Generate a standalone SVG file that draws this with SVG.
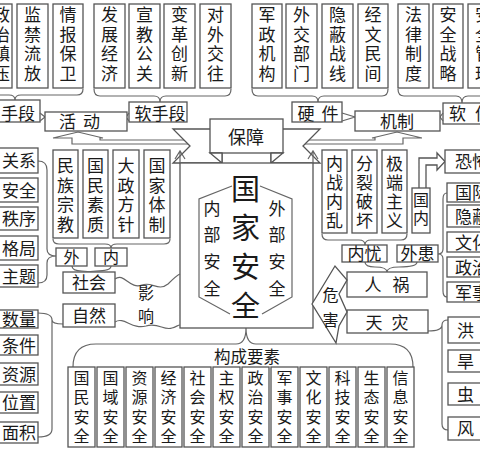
<svg xmlns="http://www.w3.org/2000/svg" width="480" height="450" viewBox="0 0 480 450">
<style>
.b{fill:#fff;stroke:#555;stroke-width:1.3}
.l{fill:none;stroke:#666;stroke-width:1.2}
.t{font-family:"Noto Sans CJK SC",sans-serif;font-size:17px;fill:#1a1a1a;text-anchor:middle}
.s{font-size:16px}
.e{text-anchor:end}
.st{text-anchor:start}
.v{writing-mode:vertical-rl;letter-spacing:2.5px}
.vb{writing-mode:vertical-rl;font-size:16px;letter-spacing:3.5px}
</style>
<rect width="480" height="450" fill="#fff"/>
<g id="connectors">
<path class="l" d="M-20,89 Q-20,95 -14,95 L9,95 Q15,95 15,100 Q15,95 21,95 L77,95 Q83,95 83,89"/>
<path class="l" d="M94,89 Q94,96 100,96 L154,96 Q160,96 160,102 Q160,96 166,96 L225,96 Q231,96 231,89"/>
<path class="l" d="M252,89 Q252,96 258,96 L312,96 Q318,96 318,102 Q318,96 324,96 L382,96 Q388,96 388,89"/>
<path class="l" d="M398,89 Q398,96 404,96 L456,96 Q462,96 462,103 Q462,96 468,96 L494,96 Q500,96 500,89"/>
<path class="l" d="M53,138 L78,132 L103,138 L100,138 L100,140 L200,140 M53,138 L72,138 L72,144 L200,144"/>
<path class="l" d="M422,138 L397,132 L372,138 L375,138 L375,140 L295,140 M422,138 L403,138 L403,144 L295,144"/>
<path class="l" d="M53,239 Q53,244 59,244 L105,244 Q111,244 111,248 Q111,244 117,244 L164,244 Q170,244 170,239"/>
<path class="l" d="M72,266 Q72,271 82,271 Q89,271 89,272 Q89,271 96,271 Q111,271 111,266"/>
<path class="l" d="M38,161 Q47,161 47,170 L47,249 Q47,256 56,256 M56,256 Q47,256 47,263 L47,275 Q47,283 38,283"/>
<path class="l" d="M38,313 Q52,313 52,320 Q52,324 63,324 M52,320 L52,429 Q52,437 38,437"/>
<path class="l" d="M322,234 Q322,240 328,240 L359,240 Q365,240 365,245 Q365,240 371,240 L401,240 Q407,240 407,234"/>
<path class="l" d="M365,262 Q365,267 375,267 Q387,267 387,272 Q387,267 399,267 Q417,267 417,262"/>
<path class="l" d="M447,193 Q443,193 443,199 L443,249 Q443,254 438,254 Q443,254 443,259 L443,291 Q443,297 447,297"/>
<path class="l" d="M428,331 Q442,331 442,325 Q442,320 448,320 M442,325 L442,424 Q442,430 448,430"/>
<path class="l" d="M73,367 Q73,344 96,344 L236,344 Q246,344 246,328 Q246,344 256,344 L390,344 Q413,344 413,367"/>
<path class="b" d="M419,188 L419,158 L437,158 L437,153 L445,161.5 L437,170 L437,165 L426,165 L426,188"/>
</g>
<g id="n-zhengzhi"><rect class="b" x="-20" y="4" width="32" height="84"/><text class="t v" x="1.5" y="45.5">政治镇压</text></g>
<g id="n-jianjin"><rect class="b" x="17" y="4" width="31" height="84"/><text class="t v" x="32.5" y="45.5">监禁流放</text></g>
<g id="n-qingbao"><rect class="b" x="53" y="4" width="30" height="84"/><text class="t v" x="68" y="45.5">情报保卫</text></g>
<g id="n-fazhan"><rect class="b" x="94" y="4" width="31" height="84"/><text class="t v" x="109.5" y="45.5">发展经济</text></g>
<g id="n-xuanjiao"><rect class="b" x="129" y="4" width="31" height="84"/><text class="t v" x="144.5" y="45.5">宣教公关</text></g>
<g id="n-biange"><rect class="b" x="164" y="4" width="31" height="84"/><text class="t v" x="179.5" y="45.5">变革创新</text></g>
<g id="n-duiwai"><rect class="b" x="200" y="4" width="31" height="84"/><text class="t v" x="215.5" y="45.5">对外交往</text></g>
<g id="n-junzheng"><rect class="b" x="252" y="4" width="30" height="84"/><text class="t v" x="267" y="45.5">军政机构</text></g>
<g id="n-waijiao"><rect class="b" x="286" y="4" width="31" height="84"/><text class="t v" x="301.5" y="45.5">外交部门</text></g>
<g id="n-yinbi"><rect class="b" x="322" y="4" width="31" height="84"/><text class="t v" x="337.5" y="45.5">隐蔽战线</text></g>
<g id="n-jingwen"><rect class="b" x="358" y="4" width="30" height="84"/><text class="t v" x="373" y="45.5">经文民间</text></g>
<g id="n-falv"><rect class="b" x="398" y="4" width="31" height="84"/><text class="t v" x="413.5" y="45.5">法律制度</text></g>
<g id="n-zhanlue"><rect class="b" x="433" y="4" width="30" height="84"/><text class="t v" x="448" y="45.5">安全战略</text></g>
<g id="n-guanli"><rect class="b" x="468" y="4" width="31" height="84"/><text class="t v" x="483.5" y="45.5">安全管理</text></g>
<g id="n-huodong">
<rect class="b" x="-20" y="100" width="60" height="22"/><text class="t st" x="1" y="119.5">手段</text>
<rect class="b" x="129" y="102" width="58" height="20"/><text class="t" x="160" y="119.5">软手段</text>
<path class="l" d="M40,113 L45,117 L40,121 M129,113 L126,117 L129,121"/>
<rect class="b" x="45" y="112" width="82" height="19"/><text class="t" x="83" y="128" style="letter-spacing:7px">活动</text>
</g>
<g id="n-jizhi">
<rect class="b" x="292" y="102" width="50" height="20"/><text class="t" x="321.5" y="119.5" style="letter-spacing:7px">硬件</text>
<rect class="b" x="443" y="103" width="60" height="21"/><text class="t st" x="449" y="119.5" style="letter-spacing:9px">软件</text>
<path class="l" d="M342,113 L355,117 L342,121 M443,113 L440,117 L443,121"/>
<rect class="b" x="355" y="111" width="85" height="20"/><text class="t" x="397" y="127.5">机制</text>
</g>
<g id="n-baozhang">
<polygon class="b" points="222,129 173,129 190,146 173,163 222,163"/>
<polygon class="b" points="271,129 320,129 303,146 320,163 271,163"/>
<rect class="b" x="210" y="119" width="73" height="34"/>
<polygon class="b" points="210,153 222,153 222,163"/>
<polygon class="b" points="283,153 271,153 271,163"/>
<text class="t" x="246" y="143.5" style="font-size:18px">保障</text>
</g>
<g id="n-guojia">
<rect class="b" x="180" y="163" width="133" height="165"/>
<path class="l" d="M180,163 L180,152 M175,159 L180,151 L185,159 M313,163 L313,152 M308,159 L313,151 L318,159"/>
<path class="l" d="M232,186 L199,199 L199,297 L230,314 M260,186 L292,199 L292,297 L262,314"/>
<text class="t" x="245.5" y="252" style="writing-mode:vertical-rl;font-size:29px;letter-spacing:10px">国家安全</text>
<text class="t" x="212" y="253" style="writing-mode:vertical-rl;letter-spacing:9.7px">内部安全</text>
<text class="t" x="277" y="253" style="writing-mode:vertical-rl;letter-spacing:9.7px">外部安全</text>
</g>
<g id="n-minzu"><rect class="b" x="53" y="150" width="25" height="88"/><text class="t v" x="65.5" y="196.5">民族宗教</text></g>
<g id="n-guomin"><rect class="b" x="83" y="150" width="25" height="88"/><text class="t v" x="95.5" y="196.5">国民素质</text></g>
<g id="n-dazheng"><rect class="b" x="113" y="150" width="26" height="88"/><text class="t v" x="126" y="196.5">大政方针</text></g>
<g id="n-tizhi"><rect class="b" x="144" y="150" width="26" height="88"/><text class="t v" x="157" y="196.5">国家体制</text></g>
<g id="n-guanxi"><rect class="b" x="-10" y="148" width="48" height="25"/><text class="t e" x="36" y="167">关系</text></g>
<g id="n-anquan"><rect class="b" x="-10" y="178" width="48" height="24"/><text class="t e" x="36" y="196.5">安全</text></g>
<g id="n-zhixu"><rect class="b" x="-10" y="207" width="48" height="23"/><text class="t e" x="36" y="225">秩序</text></g>
<g id="n-geju"><rect class="b" x="-10" y="236" width="48" height="24"/><text class="t e" x="36" y="254.5">格局</text></g>
<g id="n-zhuti"><rect class="b" x="-10" y="265" width="48" height="22"/><text class="t e" x="36" y="282.5">主题</text></g>
<g id="n-wai"><rect class="b" x="56" y="248" width="31" height="18"/><text class="t s" x="71.5" y="263">外</text></g>
<g id="n-nei"><rect class="b" x="95" y="248" width="32" height="18"/><text class="t s" x="111" y="263">内</text></g>
<g id="n-shehui"><rect class="b" x="63" y="272" width="52" height="21"/><text class="t" x="89" y="289">社会</text></g>
<g id="n-ziran"><rect class="b" x="63" y="304" width="52" height="23"/><text class="t" x="89" y="322">自然</text></g>
<g id="n-yingxiang">
<path class="l" d="M115,279 C124,272 130,290 142,285 C152,281 158,292 168,284 C173,279 177,275 180,274"/>
<path class="l" d="M115,322 C124,316 132,330 146,326 C158,322 164,331 172,328 C176,327 178,325 180,325"/>
<text class="t" x="146" y="308" style="writing-mode:vertical-rl;font-size:16px;letter-spacing:7px">影响</text>
</g>
<g id="n-shuliang"><rect class="b" x="-10" y="310" width="48" height="18"/><text class="t e" x="36" y="325.5">数量</text></g>
<g id="n-tiaojian"><rect class="b" x="-10" y="335" width="48" height="20"/><text class="t e" x="36" y="351.5">条件</text></g>
<g id="n-ziyuan"><rect class="b" x="-10" y="363" width="48" height="22"/><text class="t e" x="36" y="380.5">资源</text></g>
<g id="n-weizhi"><rect class="b" x="-10" y="392" width="48" height="21"/><text class="t e" x="36" y="409">位置</text></g>
<g id="n-mianji"><rect class="b" x="-10" y="422" width="48" height="21"/><text class="t e" x="36" y="439">面积</text></g>
<g id="n-neizhan"><rect class="b" x="322" y="150" width="25" height="83"/><text class="t v" x="334.5" y="193.5" style="letter-spacing:2px">内战内乱</text></g>
<g id="n-fenlie"><rect class="b" x="352" y="150" width="25" height="83"/><text class="t v" x="364.5" y="193.5" style="letter-spacing:2px">分裂破坏</text></g>
<g id="n-jiduan"><rect class="b" x="382" y="150" width="25" height="83"/><text class="t v" x="394.5" y="193.5" style="letter-spacing:2px">极端主义</text></g>
<g id="n-guonei"><rect class="b" x="412" y="188" width="18" height="45"/><text class="t vb" x="421" y="210" style="letter-spacing:2px">国内</text></g>
<g id="n-kongbu"><rect class="b" x="445" y="150" width="60" height="23"/><text class="t st" x="455" y="168">恐怖</text></g>
<g id="n-guoji"><rect class="b" x="447" y="183" width="50" height="19"/><text class="t st" x="455" y="199">国际</text></g>
<g id="n-yinbi2"><rect class="b" x="447" y="205" width="50" height="22"/><text class="t st" x="455" y="222.5">隐蔽</text></g>
<g id="n-wenhua"><rect class="b" x="447" y="232" width="50" height="20"/><text class="t st" x="455" y="248.5">文化</text></g>
<g id="n-zhengzhi2"><rect class="b" x="447" y="257" width="50" height="20"/><text class="t st" x="455" y="273.5">政治</text></g>
<g id="n-junshi"><rect class="b" x="447" y="282" width="50" height="20"/><text class="t st" x="455" y="298.5">军事</text></g>
<g id="n-neiyou"><rect class="b" x="342" y="245" width="45" height="17"/><text class="t" x="364.5" y="259.5">内忧</text></g>
<g id="n-waihuan"><rect class="b" x="397" y="245" width="41" height="17"/><text class="t" x="417.5" y="259.5">外患</text></g>
<g id="n-renhuo"><rect class="b" x="347" y="272" width="80" height="25"/><text class="t" x="392.5" y="291" style="letter-spacing:11px">人祸</text></g>
<g id="n-tianzai"><rect class="b" x="347" y="310" width="81" height="23"/><text class="t" x="391.5" y="328.5" style="letter-spacing:9px">天灾</text></g>
<g id="n-weihai"><polygon class="b" points="312,304 335,266 347,280 339,294 347,312 339,326 336,343"/><text class="t" x="330.5" y="312" style="writing-mode:vertical-rl;font-size:16px;letter-spacing:9px">危害</text></g>
<g id="n-hong"><rect class="b" x="448" y="317" width="50" height="26"/><text class="t st" x="457" y="336.5">洪</text></g>
<g id="n-han"><rect class="b" x="448" y="350" width="50" height="22"/><text class="t st" x="457" y="367.5">旱</text></g>
<g id="n-chong"><rect class="b" x="448" y="383" width="50" height="22"/><text class="t st" x="457" y="400.5">虫</text></g>
<g id="n-feng"><rect class="b" x="448" y="417" width="50" height="23"/><text class="t st" x="457" y="435">风</text></g>
<g id="n-goucheng"><text class="t" x="247" y="363" style="font-size:16.5px">构成要素</text></g>
<g id="n-b1"><rect class="b" x="68" y="367" width="27" height="80"/><text class="t vb" x="81.5" y="408.5">国民安全</text></g>
<g id="n-b2"><rect class="b" x="97" y="367" width="27" height="80"/><text class="t vb" x="110.5" y="408.5">国域安全</text></g>
<g id="n-b3"><rect class="b" x="126" y="367" width="27" height="80"/><text class="t vb" x="139.5" y="408.5">资源安全</text></g>
<g id="n-b4"><rect class="b" x="155" y="367" width="27" height="80"/><text class="t vb" x="168.5" y="408.5">经济安全</text></g>
<g id="n-b5"><rect class="b" x="184" y="367" width="27" height="80"/><text class="t vb" x="197.5" y="408.5">社会安全</text></g>
<g id="n-b6"><rect class="b" x="213" y="367" width="27" height="80"/><text class="t vb" x="226.5" y="408.5">主权安全</text></g>
<g id="n-b7"><rect class="b" x="242" y="367" width="27" height="80"/><text class="t vb" x="255.5" y="408.5">政治安全</text></g>
<g id="n-b8"><rect class="b" x="271" y="367" width="27" height="80"/><text class="t vb" x="284.5" y="408.5">军事安全</text></g>
<g id="n-b9"><rect class="b" x="300" y="367" width="27" height="80"/><text class="t vb" x="313.5" y="408.5">文化安全</text></g>
<g id="n-b10"><rect class="b" x="329" y="367" width="27" height="80"/><text class="t vb" x="342.5" y="408.5">科技安全</text></g>
<g id="n-b11"><rect class="b" x="358" y="367" width="27" height="80"/><text class="t vb" x="371.5" y="408.5">生态安全</text></g>
<g id="n-b12"><rect class="b" x="387" y="367" width="27" height="80"/><text class="t vb" x="400.5" y="408.5">信息安全</text></g>
</svg>
